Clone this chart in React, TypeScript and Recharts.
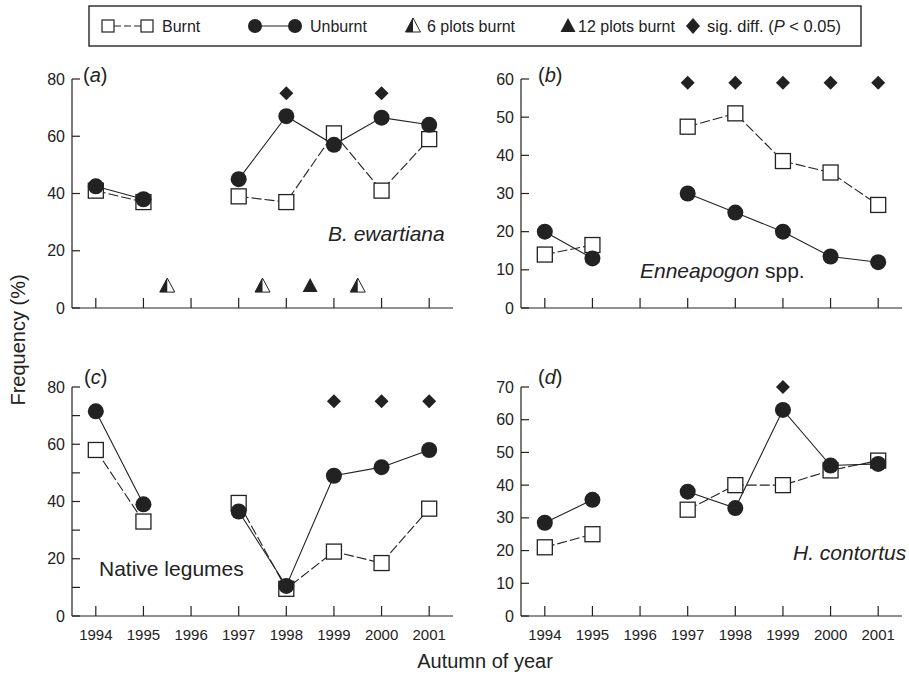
import React from 'react';
import { ComposedChart, Line, XAxis, YAxis } from 'recharts';

const years = [1994, 1995, 1996, 1997, 1998, 1999, 2000, 2001];

// (a) B. ewartiana
const burntA = [41, 37, null, 39, 37, 61, 41, 59];
const unburntA = [42.5, 38, null, 45, 67, 57, 66.5, 64];
const sigA = [null, null, null, null, 75, null, 75, null];
const fire6Years = [1995.5, 1997.5, 1999.5];
const fire12Years = [1998.5];
const fireLevel = 8;

// (b) Enneapogon spp.
const burntB = [14, 16.5, null, 47.5, 51, 38.5, 35.5, 27];
const unburntB = [20, 13, null, 30, 25, 20, 13.5, 12];
const sigB = [null, null, null, 59, 59, 59, 59, 59];

// (c) Native legumes
const burntC = [58, 33, null, 39.5, 9.5, 22.5, 18.5, 37.5];
const unburntC = [71.5, 39, null, 36.5, 10.5, 49, 52, 58];
const sigC = [null, null, null, null, null, 75, 75, 75];

// (d) H. contortus
const burntD = [21, 25, null, 32.5, 40, 40, 44.5, 47.5];
const unburntD = [28.5, 35.5, null, 38, 33, 63, 46, 46.5];
const sigD = [null, null, null, null, null, 70, null, null];

const ticksA = [0, 20, 40, 60, 80];
const ticksB = [0, 10, 20, 30, 40, 50, 60];
const ticksC = [0, 10, 20, 30, 40, 50, 60, 70, 80];
const ticksD = [0, 10, 20, 30, 40, 50, 60, 70];

const INK = '#222';
const FONT = 'Arial, "Liberation Sans", Helvetica, sans-serif';

const rows = (vals: (number | null)[]) => years.map((x, i) => ({ x, v: vals[i] }));
const atLevel = (xs: number[], v: number) => xs.map((x) => ({ x, v }));

const squareDot = (p: any) =>
  p.cy == null ? <g key={p.index} /> : (
    <rect key={p.index} x={p.cx - 7.5} y={p.cy - 7.5} width={15} height={15} fill="#fff" stroke={INK} strokeWidth={1.3} />
  );

const circleDot = (p: any) =>
  p.cy == null ? <g key={p.index} /> : <circle key={p.index} cx={p.cx} cy={p.cy} r={8} fill={INK} />;

const diamondDot = (p: any) =>
  p.cy == null ? <g key={p.index} /> : (
    <path key={p.index} d={`M${p.cx},${p.cy - 7}L${p.cx + 7},${p.cy}L${p.cx},${p.cy + 7}L${p.cx - 7},${p.cy}Z`} fill={INK} />
  );

const fullTri = (p: any) =>
  p.cy == null ? <g key={p.index} /> : (
    <path key={p.index} d={`M${p.cx},${p.cy - 7}L${p.cx + 7.5},${p.cy + 7}L${p.cx - 7.5},${p.cy + 7}Z`} fill={INK} />
  );

const halfTri = (p: any) =>
  p.cy == null ? <g key={p.index} /> : (
    <g key={p.index}>
      <path d={`M${p.cx},${p.cy - 7}L${p.cx + 7.5},${p.cy + 7}L${p.cx - 7.5},${p.cy + 7}Z`} fill="#fff" stroke={INK} strokeWidth={1} />
      <path d={`M${p.cx},${p.cy - 7}L${p.cx},${p.cy + 7}L${p.cx - 7.5},${p.cy + 7}Z`} fill={INK} />
    </g>
  );

const yTick = (labelEvery: number) => (p: any) => {
  const v = p.payload.value;
  return (
    <g>
      <line x1={p.x} y1={p.y} x2={p.x + 8} y2={p.y} stroke={INK} strokeWidth={1.2} />
      {v % labelEvery === 0 && (
        <text x={p.x - 7} y={p.y} textAnchor="end" dominantBaseline="central" fontSize={16} fill={INK} fontFamily={FONT}>
          {v}
        </text>
      )}
    </g>
  );
};

const xTick = (showLabel: boolean) => (p: any) => (
  <g>
    <line x1={p.x} y1={p.y} x2={p.x} y2={p.y - 10} stroke={INK} strokeWidth={1.2} />
    {showLabel && (
      <text x={p.x} y={p.y + 18} textAnchor="middle" dominantBaseline="central" fontSize={15} fill={INK} fontFamily={FONT}>
        {p.payload.value}
      </text>
    )}
  </g>
);

type PanelProps = {
  left: number;
  top: number;
  w: number;
  h: number;
  yMax: number;
  yTicks: number[];
  labelEvery: number;
  showX: boolean;
  burnt: (number | null)[];
  unburnt: (number | null)[];
  sig: (number | null)[];
  fires?: boolean;
};

function Panel({ left, top, w, h, yMax, yTicks, labelEvery, showX, burnt, unburnt, sig, fires }: PanelProps) {
  const padL = 60;
  const padT = 20;
  const padR = 10;
  const xAxisH = 40;
  return (
    <div style={{ position: 'absolute', left: left - padL, top: top - padT }}>
      <ComposedChart width={w + padL + padR} height={h + padT + xAxisH} margin={{ top: padT, right: padR, bottom: 0, left: 0 }}>
        <XAxis
          type="number"
          dataKey="x"
          domain={[1993.5, 2001.5]}
          ticks={years}
          interval={0}
          tickSize={0}
          tickMargin={0}
          tickLine={false}
          axisLine={{ stroke: INK, strokeWidth: 1.2 }}
          tick={xTick(showX)}
          height={xAxisH}
        />
        <YAxis
          type="number"
          domain={[0, yMax]}
          ticks={yTicks}
          interval={0}
          tickSize={0}
          tickMargin={0}
          tickLine={false}
          axisLine={{ stroke: INK, strokeWidth: 1.2 }}
          tick={yTick(labelEvery)}
          width={padL}
        />
        <Line data={rows(burnt)} dataKey="v" stroke={INK} strokeWidth={1.1} strokeDasharray="10 3" dot={squareDot} activeDot={false} connectNulls={false} isAnimationActive={false} />
        <Line data={rows(unburnt)} dataKey="v" stroke={INK} strokeWidth={1.1} dot={circleDot} activeDot={false} connectNulls={false} isAnimationActive={false} />
        <Line data={rows(sig)} dataKey="v" stroke="none" dot={diamondDot} activeDot={false} isAnimationActive={false} />
        {fires && (
          <Line data={atLevel(fire6Years, fireLevel)} dataKey="v" stroke="none" dot={halfTri} activeDot={false} isAnimationActive={false} />
        )}
        {fires && (
          <Line data={atLevel(fire12Years, fireLevel)} dataKey="v" stroke="none" dot={fullTri} activeDot={false} isAnimationActive={false} />
        )}
      </ComposedChart>
    </div>
  );
}

function PanelLetter({ x, y, letter }: { x: number; y: number; letter: string }) {
  return (
    <text x={x} y={y} dominantBaseline="central" fontSize={20} fill={INK} fontFamily={FONT}>
      (<tspan fontStyle="italic">{letter}</tspan>)
    </text>
  );
}

function LegendBox() {
  const cy = 26;
  const t = { fontSize: 16, fill: INK, fontFamily: FONT, dominantBaseline: 'central' as const };
  return (
    <g>
      <rect x={89} y={6} width={772} height={40} fill="#fff" stroke="#333" strokeWidth={1.5} />
      <line x1={114} y1={cy} x2={141} y2={cy} stroke={INK} strokeWidth={1.1} strokeDasharray="7 3" />
      <rect x={102} y={cy - 6} width={12} height={12} fill="#fff" stroke={INK} strokeWidth={1.2} />
      <rect x={141} y={cy - 6} width={12} height={12} fill="#fff" stroke={INK} strokeWidth={1.2} />
      <text x={162} y={cy} {...t}>Burnt</text>
      <line x1={255} y1={cy} x2={295} y2={cy} stroke={INK} strokeWidth={1.2} />
      <circle cx={255} cy={cy} r={7} fill={INK} />
      <circle cx={295} cy={cy} r={7} fill={INK} />
      <text x={310} y={cy} {...t}>Unburnt</text>
      <path d={`M413,${cy - 8}L420.5,${cy + 6}L405.5,${cy + 6}Z`} fill="#fff" stroke={INK} strokeWidth={1} />
      <path d={`M413,${cy - 8}L413,${cy + 6}L405.5,${cy + 6}Z`} fill={INK} />
      <text x={427} y={cy} {...t}>6 plots burnt</text>
      <path d={`M568,${cy - 8}L575.5,${cy + 6}L560.5,${cy + 6}Z`} fill={INK} />
      <text x={578} y={cy} {...t}>12 plots burnt</text>
      <path d={`M693,${cy - 8}L700,${cy}L693,${cy + 8}L686,${cy}Z`} fill={INK} />
      <text x={707} y={cy} {...t} fontSize={16.5}>
        sig. diff. (<tspan fontStyle="italic">P</tspan> {'<'} 0.05)
      </text>
    </g>
  );
}

export default function App() {
  const label = { fill: INK, fontFamily: FONT, dominantBaseline: 'central' as const };
  return (
    <div style={{ position: 'absolute', left: 0, top: 0, width: 909, height: 674, background: '#fff', overflow: 'hidden' }}>
      <Panel left={72} top={79} w={381} h={229} yMax={80} yTicks={ticksA} labelEvery={20} showX={false} burnt={burntA} unburnt={unburntA} sig={sigA} fires />
      <Panel left={521} top={79} w={381} h={229} yMax={60} yTicks={ticksB} labelEvery={10} showX={false} burnt={burntB} unburnt={unburntB} sig={sigB} />
      <Panel left={72} top={387} w={381} h={229} yMax={80} yTicks={ticksC} labelEvery={20} showX burnt={burntC} unburnt={unburntC} sig={sigC} />
      <Panel left={521} top={387} w={381} h={229} yMax={70} yTicks={ticksD} labelEvery={10} showX burnt={burntD} unburnt={unburntD} sig={sigD} />
      <svg width={909} height={674} style={{ position: 'absolute', left: 0, top: 0, pointerEvents: 'none' }}>
        <LegendBox />
        <PanelLetter x={83} y={75} letter="a" />
        <PanelLetter x={538} y={75} letter="b" />
        <PanelLetter x={84} y={377} letter="c" />
        <PanelLetter x={538} y={377} letter="d" />
        <text x={328} y={233} fontSize={21} fontStyle="italic" {...label}>B. ewartiana</text>
        <text x={640} y={270} fontSize={21} {...label}>
          <tspan fontStyle="italic">Enneapogon</tspan> spp.
        </text>
        <text x={99} y={568} fontSize={21} {...label}>Native legumes</text>
        <text x={793} y={552} fontSize={21} fontStyle="italic" {...label}>H. contortus</text>
        <text x={485} y={661} fontSize={20} textAnchor="middle" {...label}>Autumn of year</text>
        <text x={18} y={340} fontSize={20} textAnchor="middle" transform="rotate(-90 18 340)" {...label}>Frequency (%)</text>
      </svg>
    </div>
  );
}
